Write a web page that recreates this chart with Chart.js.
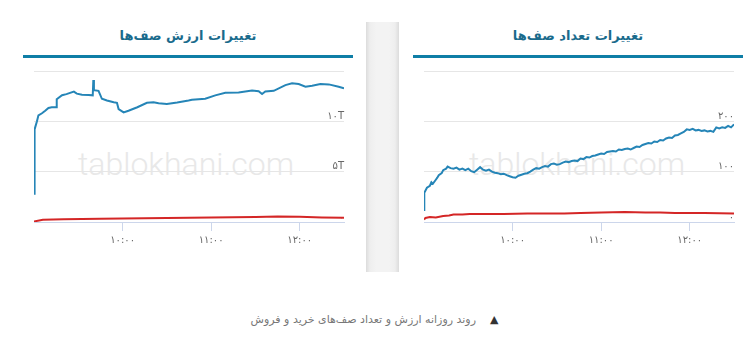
<!DOCTYPE html>
<html>
<head>
<meta charset="utf-8">
<script src="https://cdn.jsdelivr.net/npm/chart.js@4.4.0/dist/chart.umd.min.js"></script>
<style>
  html, body { margin:0; padding:0; background:#fff; width:749px; height:357px; overflow:hidden; position:relative; font-family:"DejaVu Sans", sans-serif; }
  .abs { position:absolute; }
  .divider { left:366px; top:22px; width:33px; height:250px;
    background:linear-gradient(to right,#dcdcdc 0px,#eeeeee 4px,#f3f3f3 10px,#f3f3f3 23px,#eeeeee 29px,#dcdcdc 33px); }
  .title { width:330px; top:28px; text-align:center; font-weight:bold; font-size:13px; color:#1a6b8c; direction:rtl; }
  .uline { height:3px; top:55px; width:330px; background:#0f7ea6; }
  .wm { top:145px; width:330px; text-align:center; font-family:Roboto, sans-serif; font-weight:300; font-size:32px; color:#e8e8e8; }
  .cv { top:59px; width:330px; height:200px; }
  .cap { left:0; width:749px; top:313px; text-align:center; direction:rtl; font-size:11px; color:#777; }
  .tri { color:#333; font-size:11px; margin-left:14px; }
</style>
</head>
<body>
<div class="abs divider"></div>

<div class="abs title" style="left:23px;">تغییرات ارزش صف‌ها</div>
<div class="abs uline" style="left:23px;"></div>
<div class="abs wm" style="left:21px;">tablokhani.com</div>
<div class="abs cv" style="left:23px;"><canvas id="c1" width="330" height="200"></canvas></div>

<div class="abs title" style="left:413px;">تغییرات تعداد صف‌ها</div>
<div class="abs uline" style="left:413px;"></div>
<div class="abs wm" style="left:412px;">tablokhani.com</div>
<div class="abs cv" style="left:413px;"><canvas id="c2" width="330" height="200"></canvas></div>

<div class="abs cap"><span class="tri">▲</span><span>روند روزانه ارزش و تعداد صف‌های خرید و فروش</span></div>

<script>
// ---- DATA (minutes after 09:00) ----
const xTickMinutes = [60, 120, 180];
const xTickLabels = ['۱۰:۰۰', '۱۱:۰۰', '۱۲:۰۰'];

// Left chart: value of queues (T)
const valueBuyTimes = [0,0.2,0.6,2,3,5.4,7.6,9.8,12,15,15.4,19,22,27,29,32.5,37,39.8,40.2,40.6,43.7,46,49.4,54,56.2,57.3,60.7,64,70,76.5,81,84.4,90,97,104.7,107,116,122.8,129.6,138.6,147.7,152.2,154.5,156.7,162.4,170.3,174.8,179.3,183.9,188.4,194,199.7,206.4,210];
const valueBuy = [2.8,4.4,9.2,10.0,10.6,10.8,11.05,11.33,11.4,11.4,12.2,12.6,12.7,12.95,12.75,12.65,12.62,12.58,14.1,13.1,13.03,12.24,12.07,11.9,11.84,11.22,10.89,11.05,11.4,11.84,11.9,11.8,11.73,11.87,12.07,12.14,12.24,12.58,12.83,12.86,13.06,12.99,12.72,12.96,13.03,13.6,13.78,13.7,13.44,13.54,13.7,13.67,13.44,13.27];
const valueSellTimes = [0,6,20,45,90,120,150,165,180,195,210];
const valueSell = [0.05,0.22,0.28,0.33,0.40,0.45,0.50,0.55,0.52,0.45,0.42];
const valueTicks = [0, 5, 10, 15];
const valueTickLabels = ['۰', '۵T', '۱۰T', ''];

// Right chart: count of queues
const countBuyTimes = [0,0.2,2,4,5,6,8,9,10,12,13,15,16,18,20,22,24,26,28,30,32,34,36,38,40,42,44,46,48,50,52,54,56,58,60,62,64,66,68,70,72,74,76,78,80,82,84,86,88,90,92,94,96,98,100,102,104,106,108,110,112,114,116,118,120,122,124,126,128,130,132,134,136,138,140,142,144,146,148,150,152,154,156,158,160,162,164,166,168,170,172,174,176,178,180,182,184,186,188,190,192,194,196,198,200,202,204,206,208,210];
const countBuy = [24,58,68,72,79,76,84,88,93,97,103,106,110,107,106,108,104,106,103,106,101,99,104,109,104,102,104,100,98,97,95,96,93,91,89,88,92,94,96,97,100,104,107,106,109,111,110,115,116,114,115,118,120,119,121,122,121,126,125,129,128,131,132,134,136,135,139,140,141,140,144,143,145,146,144,147,150,149,153,155,157,156,160,159,163,162,166,168,167,172,173,176,179,184,183,185,182,183,181,182,180,181,179,188,186,188,187,191,188,194];
const countSellTimes = [0,1,4,8,13,17,20,26,31,40,54,70,84,95,106,120,136,150,160,170,190,210];
const countSell = [5,8,10,9,12,13,15,15,16,16,16,17,17,17,18,19,20,19,19,18,18,17];
const countTicks = [0, 100, 200, 300];
const countTickLabels = ['۰', '۱۰۰', '۲۰۰', ''];

const blue = '#2585b7';
const red = '#d42626';

function pts(ts, vs) { return ts.map((t, i) => ({x: t, y: vs[i]})); }

function makeChart(id, buyT, buyV, sellT, sellV, yTicks, yLabels) {
  const lblMap = {};
  yTicks.forEach((v, i) => lblMap[v] = yLabels[i]);
  const xMap = {};
  xTickMinutes.forEach((v, i) => xMap[v] = xTickLabels[i]);
  return new Chart(document.getElementById(id), {
    type: 'line',
    data: {
      datasets: [
        { data: pts(buyT, buyV), borderColor: blue, borderWidth: 2, pointRadius: 0, tension: 0, fill: false },
        { data: pts(sellT, sellV), borderColor: red, borderWidth: 2, pointRadius: 0, tension: 0, fill: false }
      ]
    },
    options: {
      responsive: false,
      animation: false,
      events: [],
      layout: { padding: { left: 11, right: 9, top: 12, bottom: 10 } },
      plugins: { legend: { display: false }, tooltip: { enabled: false } },
      scales: {
        x: {
          type: 'linear', min: 0, max: 210,
          afterBuildTicks: (s) => { s.ticks = xTickMinutes.map(v => ({value: v})); },
          ticks: { callback: (v) => xMap[v] || '', color: '#666', font: { family: 'DejaVu Sans', size: 10 }, padding: 3, maxRotation: 0, autoSkip: false },
          grid: { drawOnChartArea: false, color: '#ccd6eb', tickLength: 9 },
          border: { display: true, color: '#ccd6eb' }
        },
        y: {
          type: 'linear', position: 'right', min: yTicks[0], max: yTicks[yTicks.length - 1],
          afterBuildTicks: (s) => { s.ticks = yTicks.map(v => ({value: v})); },
          ticks: { mirror: true, padding: 0, align: 'end', callback: (v) => lblMap[v], color: '#666', font: { family: 'DejaVu Sans', size: 10 } },
          grid: { color: '#e6e6e6', drawTicks: false },
          border: { display: false }
        }
      }
    }
  });
}

makeChart('c1', valueBuyTimes, valueBuy, valueSellTimes, valueSell, valueTicks, valueTickLabels);
makeChart('c2', countBuyTimes, countBuy, countSellTimes, countSell, countTicks, countTickLabels);
</script>
</body>
</html>
